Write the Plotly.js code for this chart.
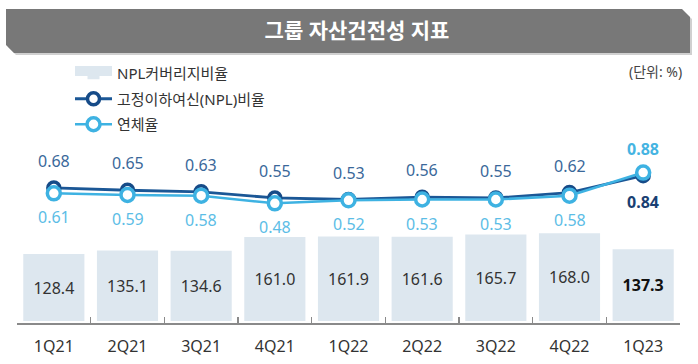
<!DOCTYPE html>
<html><head><meta charset="utf-8">
<script src="https://cdn.plot.ly/plotly-3.0.1.min.js"></script>
<style>html,body{margin:0;padding:0;background:#fff;}#chart{width:698px;height:364px;}</style>
</head><body><div id="chart"></div>
<script>
const categories = ['1Q21','2Q21','3Q21','4Q21','1Q22','2Q22','3Q22','4Q22','1Q23'];
const coverageRatio = [128.4,135.1,134.6,161.0,161.9,161.6,165.7,168.0,137.3];
const nplRatio = [0.68,0.65,0.63,0.55,0.53,0.56,0.55,0.62,0.84];
const delinquencyRatio = [0.61,0.59,0.58,0.48,0.52,0.53,0.53,0.58,0.88];
const seriesNames = ['NPL커버리지비율','고정이하여신(NPL)비율','연체율'];
const titleText = '그룹 자산건전성 지표';
const unitText = '(단위: %)';

const FONT = 'Noto Sans, Noto Sans CJK KR, sans-serif';
const W = 698, H = 364;
const M = {l:17, r:18, t:60, b:41};
const pw = W - M.l - M.r, ph = H - M.t - M.b;
const px = x => (x - M.l) / pw;
const py = y => (H - M.b - y) / ph;

const last = categories.length - 1;
const barColor = '#dde7ef';
const barText = coverageRatio.map((v,i) => i === last ? '<b>' + v.toFixed(1) + '</b>' : v.toFixed(1));
const barTextColor = coverageRatio.map((v,i) => i === last ? '#111' : '#333');

const traces = [
  {type:'bar', x:categories, y:coverageRatio, name:seriesNames[0], marker:{color:barColor},
   text:barText, textposition:'inside', insidetextanchor:'middle', textangle:0,
   textfont:{family:FONT, size:16, color:barTextColor}, legendgroup:'a', yaxis:'y', hoverinfo:'skip'},
  {type:'scatter', mode:'lines+markers', x:categories, y:nplRatio, name:seriesNames[1], yaxis:'y2',
   line:{color:'#1b5796', width:2.8}, marker:{symbol:'circle', size:12, color:'#ffffff', line:{color:'#164b88', width:3.5}},
   legendgroup:'b', hoverinfo:'skip'},
  {type:'scatter', mode:'lines+markers', x:categories, y:delinquencyRatio, name:seriesNames[2], yaxis:'y2',
   line:{color:'#3eb2e2', width:2.5}, marker:{symbol:'circle', size:13, color:'#ffffff', line:{color:'#3eb2e2', width:3.5}},
   legendgroup:'c', hoverinfo:'skip'}
];

const annotations = [];
nplRatio.forEach((v,i) => {
  const below = i === last;
  annotations.push({x:categories[i], y:v, xref:'x', yref:'y2', text: below ? '<b>'+v.toFixed(2)+'</b>' : v.toFixed(2),
    showarrow:false, yshift: below ? -26 : 27, font:{family:FONT, size:16, color: below ? '#1a3f73' : '#3a689a'}});
});
delinquencyRatio.forEach((v,i) => {
  const above = i === last;
  annotations.push({x:categories[i], y:v, xref:'x', yref:'y2', text: above ? '<b>'+v.toFixed(2)+'</b>' : v.toFixed(2),
    showarrow:false, yshift: above ? 24 : -24, font:{family:FONT, size:16, color: above ? '#45b4e2' : '#5cbde6'}});
});
annotations.push({x:px(684), y:py(72), xref:'paper', yref:'paper', xanchor:'right', yanchor:'middle',
  text:unitText, showarrow:false, font:{family:FONT, size:14, color:'#444'}});

const bannerPath = (pts) => 'M' + pts.map(p => px(p[0]) + ',' + py(p[1])).join(' L') + ' Z';
const shapes = [
  {type:'path', xref:'paper', yref:'paper', layer:'below', line:{width:0}, fillcolor:'#d0d0d0',
   path: bannerPath([[8,11],[683,11],[692,19],[692,55],[16,55],[8,47]])},
  {type:'path', xref:'paper', yref:'paper', layer:'below', line:{width:0}, fillcolor:'#787878',
   path: bannerPath([[6,9],[682,9],[690,17],[690,53],[14,53],[6,45]])},
  // widen the bar legend swatch to a flat rectangle
  {type:'rect', xref:'paper', yref:'paper', layer:'above', line:{width:0}, fillcolor:barColor,
   x0:px(75), x1:px(112), y0:py(76), y1:py(66)}
];

const layout = {
  width:W, height:H, margin:M, paper_bgcolor:'#fff', plot_bgcolor:'rgba(0,0,0,0)',
  font:{family:FONT, color:'#333'},
  title:{text:'<b>'+titleText+'</b>', xref:'container', yref:'container', x:357/W, y:1-31/H, xanchor:'center', yanchor:'middle',
    font:{family:FONT, size:21, color:'#ffffff'}},
  bargap:0.17, showlegend:true,
  legend:{x:px(70), y:py(57), xanchor:'left', yanchor:'top', traceorder:'grouped', tracegroupgap:3,
    font:{family:FONT, size:15, color:'#333'}, bgcolor:'rgba(0,0,0,0)', itemwidth:37},
  xaxis:{type:'category', range:[-0.5, 8.5], showline:true, linecolor:'#8a8a8a', linewidth:2,
    ticks:'inside', ticklen:6, tickwidth:1.5, tickcolor:'#8a8a8a', tickson:'boundaries', showgrid:false, zeroline:false,
    ticklabelstandoff:8, tickfont:{family:FONT, size:16, color:'#333'}, fixedrange:true},
  yaxis:{range:[-3.8, 500], visible:false, showgrid:false, zeroline:false, fixedrange:true},
  yaxis2:{range:[-1.074, 2.342], overlaying:'y', visible:false, showgrid:false, zeroline:false, fixedrange:true},
  annotations, shapes
};
Plotly.newPlot('chart', traces, layout, {staticPlot:true, displayModeBar:false});
</script></body></html>
